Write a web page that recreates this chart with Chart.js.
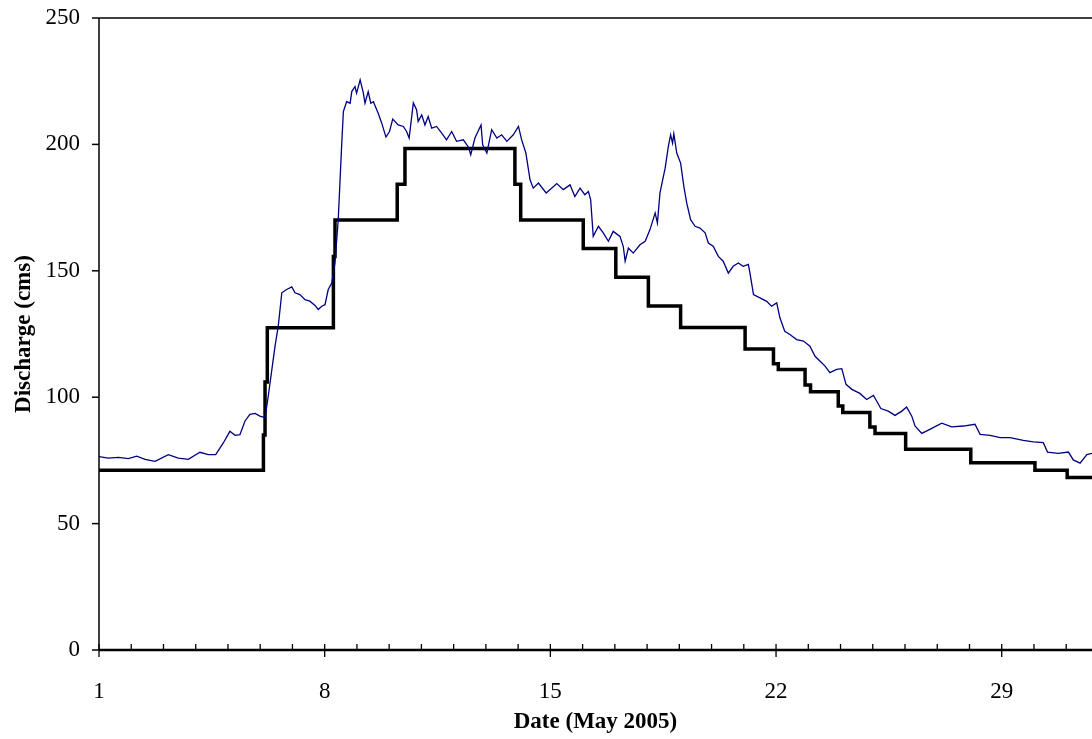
<!DOCTYPE html>
<html>
<head>
<meta charset="utf-8">
<script src="https://cdn.jsdelivr.net/npm/chart.js@4"></script>
<style>
  html, body { margin: 0; padding: 0; background: #fff; }
  #wrap { width: 1092px; height: 739px; }
</style>
</head>
<body>
<div id="wrap"><canvas id="flowChart"></canvas></div>
<script>
// observed discharge (blue trace): day of May 2005 and cms
const obsDays = [1.00, 1.29, 1.60, 1.91, 2.17, 2.43, 2.74, 3.15, 3.46, 3.77, 4.13, 4.39, 4.62, 4.86, 5.06, 5.22, 5.37, 5.53, 5.68, 5.84,
  5.99, 6.15, 6.25, 6.46, 6.56, 6.67, 6.82, 6.98, 7.08, 7.23, 7.39, 7.54, 7.70, 7.80, 7.91, 8.01, 8.11, 8.22, 8.32, 8.42,
  8.53, 8.58, 8.68, 8.79, 8.84, 8.94, 8.99, 9.10, 9.20, 9.25, 9.35, 9.43, 9.51, 9.66, 9.77, 9.90, 10.01, 10.11, 10.28, 10.44,
  10.54, 10.62, 10.75, 10.85, 10.90, 11.01, 11.11, 11.21, 11.32, 11.47, 11.63, 11.78, 11.94, 12.09, 12.30, 12.46, 12.53, 12.66, 12.85, 12.90,
  13.03, 13.18, 13.34, 13.49, 13.65, 13.85, 14.01, 14.11, 14.24, 14.37, 14.47, 14.63, 14.87, 15.20, 15.40, 15.61, 15.76, 15.92, 16.07, 16.18,
  16.25, 16.33, 16.49, 16.64, 16.80, 16.95, 17.16, 17.26, 17.32, 17.42, 17.57, 17.78, 17.94, 18.09, 18.25, 18.32, 18.40, 18.56, 18.66, 18.73,
  18.79, 18.83, 18.92, 19.04, 19.14, 19.23, 19.35, 19.49, 19.64, 19.80, 19.90, 20.05, 20.21, 20.36, 20.52, 20.67, 20.83, 20.98, 21.14, 21.19,
  21.30, 21.50, 21.71, 21.86, 22.02, 22.12, 22.27, 22.43, 22.64, 22.85, 23.05, 23.21, 23.36, 23.52, 23.67, 23.88, 24.04, 24.17, 24.35, 24.60,
  24.81, 25.02, 25.12, 25.25, 25.48, 25.69, 25.90, 26.05, 26.21, 26.31, 26.52, 26.77, 27.14, 27.45, 27.81, 28.17, 28.33, 28.64, 28.95, 29.26,
  29.67, 29.98, 30.29, 30.42, 30.76, 31.07, 31.22, 31.43, 31.64, 31.80];
const obsQ = [76.5, 75.9, 76.2, 75.7, 76.7, 75.4, 74.6, 77.3, 75.9, 75.4, 78.2, 77.3, 77.3, 82.0, 86.5, 84.9, 85.2, 90.6, 93.2, 93.6,
  92.5, 91.9, 100.4, 120.2, 128.1, 141.3, 142.6, 143.6, 141.3, 140.6, 138.6, 138.0, 136.3, 134.7, 136.0, 136.6, 142.6, 145.2, 153.1, 170.2,
  200.5, 213.0, 216.9, 216.3, 220.9, 222.9, 220.3, 225.5, 220.3, 216.3, 220.9, 216.3, 216.9, 212.3, 208.4, 202.9, 205.1, 210.0, 207.7, 207.1,
  205.1, 202.5, 216.4, 213.7, 209.1, 211.7, 207.7, 211.0, 206.4, 207.1, 204.5, 201.8, 205.1, 201.2, 201.8, 198.9, 195.9, 202.5, 207.7, 199.8,
  196.6, 205.8, 202.5, 203.8, 201.2, 203.8, 207.1, 201.8, 196.6, 186.0, 182.7, 184.7, 180.8, 184.5, 182.1, 184.0, 179.4, 182.7, 180.1, 181.4,
  178.1, 163.6, 167.6, 165.0, 161.7, 165.6, 163.6, 159.7, 153.8, 159.0, 157.0, 160.3, 161.7, 166.3, 172.9, 168.9, 180.8, 190.6, 199.2, 203.8,
  200.5, 204.2, 196.6, 192.6, 183.4, 176.8, 170.2, 167.6, 166.9, 165.0, 161.0, 159.7, 155.7, 153.8, 149.1, 151.8, 153.1, 151.8, 152.5, 149.2,
  140.6, 139.3, 137.9, 136.0, 137.3, 131.4, 126.1, 124.8, 122.8, 122.2, 120.2, 116.2, 114.3, 112.3, 109.7, 111.0, 111.3, 105.1, 103.1, 101.5,
  99.1, 100.7, 98.5, 95.5, 94.5, 92.8, 94.5, 96.1, 92.5, 88.6, 85.7, 87.3, 89.7, 88.3, 88.6, 89.3, 85.3, 84.9, 84.0, 84.0,
  82.9, 82.3, 82.0, 78.3, 77.8, 78.3, 75.2, 73.9, 77.3, 77.8];

// stepped series (black): day where the value changes, and the new value
const stepDays = [1, 6.10, 6.15, 6.22, 8.27, 8.32, 10.25, 10.49, 13.90, 14.08, 16.02, 17.03, 18.04, 19.04, 21.04, 21.92, 22.07, 22.90,
  23.07, 23.93, 24.07, 24.91, 25.07, 26.02, 28.04, 30.03, 31.03, 31.80];
const stepQ = [71.1, 85.0, 106.0, 127.5, 155.7, 170.1, 184.2, 198.4, 184.2, 170.1, 158.8, 147.4, 136.1, 127.6, 119.1, 113.2, 111.0, 104.8,
  102.2, 96.5, 93.9, 88.2, 85.6, 79.4, 74.1, 71.1, 68.2, 68.2];

const yTicks = [0, 50, 100, 150, 200, 250];
const xLabelDays = [1, 8, 15, 22, 29];
const xDayTicks = Array.from({length: 31}, (_, i) => i + 1);

const serif = "'Liberation Serif', 'Times New Roman', serif";

// frame + tick marks, placed through the scales
const axisFrame = {
  id: 'axisFrame',
  afterDatasetsDraw(chart) {
    const {ctx, chartArea: a, scales: {x, y}} = chart;
    const seg = (x1, y1, x2, y2) => { ctx.beginPath(); ctx.moveTo(x1, y1); ctx.lineTo(x2, y2); ctx.stroke(); };
    ctx.save();
    ctx.strokeStyle = '#000';
    ctx.lineWidth = 1.5;
    seg(a.left, a.top, a.right, a.top);
    seg(a.left, a.top, a.left, a.bottom);
    yTicks.forEach(v => {
      const py = y.getPixelForValue(v);
      seg(a.left - 7, py, a.left, py);
    });
    ctx.lineWidth = 1.3;
    xDayTicks.forEach(d => {
      const px = x.getPixelForValue(d);
      if (xLabelDays.includes(d)) seg(px, a.bottom - 6, px, a.bottom + 7);
      else seg(px, a.bottom - 6, px, a.bottom);
    });
    ctx.lineWidth = 2.5;
    seg(a.left, a.bottom, a.right, a.bottom);
    ctx.restore();
  }
};

new Chart(document.getElementById('flowChart'), {
  type: 'line',
  data: {
    datasets: [
      {
        label: 'Observed',
        data: obsDays.map((d, i) => ({x: d, y: obsQ[i]})),
        borderColor: '#000080',
        borderWidth: 1.3,
        pointRadius: 0,
        tension: 0
      },
      {
        label: 'Stepped',
        data: stepDays.map((d, i) => ({x: d, y: stepQ[i]})),
        borderColor: '#000',
        borderWidth: 3.5,
        pointRadius: 0,
        stepped: true
      }
    ]
  },
  options: {
    responsive: true,
    maintainAspectRatio: false,
    animation: false,
    layout: { padding: { top: 18, right: 0, left: 0, bottom: 0 } },
    plugins: {
      legend: { display: false },
      tooltip: { enabled: false }
    },
    scales: {
      x: {
        type: 'linear',
        min: 1,
        max: 31.8,
        afterBuildTicks: scale => { scale.ticks = xDayTicks.map(v => ({value: v})); },
        afterFit: scale => {
          scale.height = 89;
          scale.paddingLeft = 0;
          scale.paddingRight = 0;
        },
        grid: { display: false },
        border: { display: false },
        ticks: {
          autoSkip: false,
          maxRotation: 0,
          padding: 20,
          color: '#000',
          font: { family: serif, size: 23 },
          callback: v => xLabelDays.includes(v) ? String(v) : ''
        },
        title: {
          display: true,
          text: 'Date (May 2005)',
          color: '#000',
          font: { family: serif, size: 23, weight: 'bold' },
          padding: { top: 3, bottom: 3 }
        }
      },
      y: {
        min: 0,
        max: 250,
        afterFit: scale => {
          scale.width = 99;
          scale.paddingTop = 0;
          scale.paddingBottom = 0;
        },
        grid: { display: false },
        border: { display: false },
        ticks: {
          stepSize: 50,
          padding: 11,
          color: '#000',
          font: { family: serif, size: 23 }
        },
        title: {
          display: true,
          text: 'Discharge (cms)',
          color: '#000',
          font: { family: serif, size: 23, weight: 'bold' },
          padding: { top: 10, bottom: 10 }
        }
      }
    }
  },
  plugins: [axisFrame]
});
</script>
</body>
</html>
